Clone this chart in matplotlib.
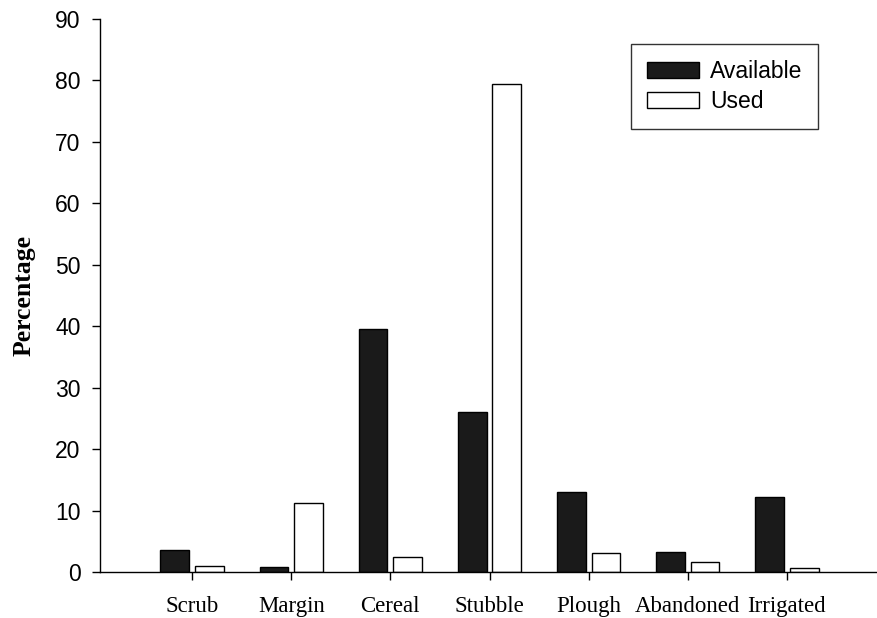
import matplotlib
matplotlib.use("Agg")
import matplotlib.pyplot as plt
import numpy as np

# habitat categories and percentages
habitats = ["Scrub", "Margin", "Cereal", "Stubble", "Plough", "Abandoned", "Irrigated"]
available = [3.6, 0.8, 39.5, 26.0, 13.0, 3.3, 12.2]
used = [0.9, 11.3, 2.4, 79.5, 3.1, 1.7, 0.6]
yticks = list(range(0, 91, 10))

W, H = 878, 618
fig = plt.figure(figsize=(W / 100, H / 100), dpi=100)
ax = fig.add_axes([100 / W, (H - 572) / H, 778 / W, (572 - 19) / H])

x = np.arange(1, len(habitats) + 1)
bw, off = 0.29, 0.175
ax.bar(x - off, available, bw, color="#1a1a1a", edgecolor="black", lw=1, label="Available")
ax.bar(x + off, used, bw, color="white", edgecolor="black", lw=1, label="Used")

ax.set_xlim(1 - 92 / 99, 7 + 91 / 99)
ax.set_ylim(0, 90)
ax.set_yticks(yticks)
ax.set_xticks(x)
ax.set_xticklabels(habitats, family="Liberation Serif", fontsize=16.5)
for t in ax.get_yticklabels():
    t.set_family("Liberation Sans"); t.set_fontsize(16.5)
ax.tick_params(axis="y", direction="out", length=6, width=1, pad=8)
ax.tick_params(axis="x", direction="out", length=6, width=1, pad=11)
for s in ("top", "right"):
    ax.spines[s].set_visible(False)
for s in ("left", "bottom"):
    ax.spines[s].set_linewidth(1)

ax.set_ylabel("Percentage", family="Liberation Serif", fontsize=18.5, weight="bold", labelpad=14)

leg = ax.legend(loc="upper left", bbox_to_anchor=((631 - 100) / 778, (572 - 44) / 553),
                prop={"family": "Liberation Sans", "size": 16.5}, frameon=True, fancybox=False,
                edgecolor="black", handlelength=2.27, handleheight=0.7, borderpad=0.7,
                labelspacing=0.3, handletextpad=0.48, borderaxespad=0)
leg.get_frame().set_linewidth(1)

fig.savefig("out.png", dpi=100)
